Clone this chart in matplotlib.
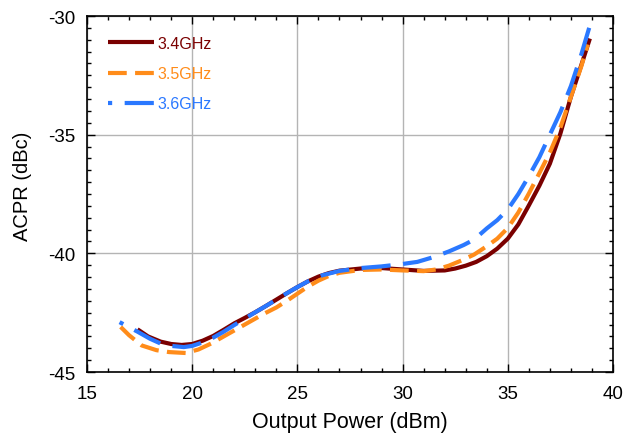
import numpy as np
import matplotlib
matplotlib.use("Agg")
import matplotlib.pyplot as plt
from matplotlib.ticker import MultipleLocator

plt.rcParams['font.family'] = ['Liberation Sans', 'DejaVu Sans']
plt.rcParams['axes.unicode_minus'] = False

# ACPR vs output power
x_34 = [17.4, 17.9, 18.5, 19.0, 19.5, 20.0, 20.5, 21.0, 21.5, 22.0, 22.5, 23.0, 23.5, 24.0, 24.5,
        25.0, 25.5, 26.0, 26.5, 27.0, 28.0, 29.0, 30.0, 31.0, 32.0, 32.5, 33.0, 33.5, 34.0, 34.5,
        35.0, 35.5, 36.0, 36.5, 37.0, 37.5, 38.0, 38.5, 38.9]
y_34 = [-43.2, -43.5, -43.72, -43.82, -43.86, -43.82, -43.68, -43.48, -43.22, -42.95, -42.72, -42.48,
        -42.22, -41.95, -41.68, -41.42, -41.18, -40.98, -40.83, -40.73, -40.64, -40.62, -40.68,
        -40.74, -40.72, -40.64, -40.52, -40.36, -40.12, -39.8, -39.38, -38.78, -37.98, -37.15,
        -36.22, -34.95, -33.4, -32.05, -30.95]

x_35 = [16.6, 17.0, 17.6, 18.3, 18.9, 19.7, 20.3, 20.9, 21.4, 21.9, 22.4, 22.9, 23.4, 24.0, 24.5,
        25.0, 25.5, 26.0, 26.5, 27.0, 28.0, 29.0, 30.0, 31.0, 31.6, 32.2, 32.8, 33.4, 34.0, 34.5,
        35.0, 35.5, 36.0, 36.5, 37.0, 37.5, 38.0, 38.5, 38.8]
y_35 = [-43.1, -43.45, -43.88, -44.08, -44.16, -44.2, -44.05, -43.8, -43.55, -43.3, -43.05, -42.8,
        -42.55, -42.28, -42.0, -41.7, -41.4, -41.15, -40.95, -40.82, -40.7, -40.68, -40.72,
        -40.75, -40.68, -40.52, -40.3, -40.05, -39.7, -39.38, -38.93, -38.28, -37.48, -36.62,
        -35.75, -34.7, -33.4, -32.1, -31.2]

x_36 = [16.55, 17.4, 18.0, 18.5, 19.0, 19.6, 20.0, 20.5, 21.0, 21.5, 22.0, 22.5, 23.0, 23.5, 24.0,
        24.5, 25.0, 25.5, 26.2, 27.0, 28.0, 29.0, 29.9, 30.7, 31.5, 32.2, 32.9, 33.4, 34.0, 34.5,
        35.0, 35.5, 36.0, 36.5, 37.0, 37.5, 38.0, 38.5, 38.95]
y_36 = [-42.9, -43.3, -43.6, -43.8, -43.9, -43.95, -43.9, -43.75, -43.55, -43.3, -43.02, -42.75,
        -42.48, -42.22, -41.95, -41.68, -41.42, -41.18, -40.92, -40.74, -40.62, -40.55, -40.46,
        -40.36, -40.15, -39.92, -39.65, -39.42, -38.95, -38.6, -38.15, -37.5, -36.75, -35.95,
        -35.0, -34.05, -32.95, -31.6, -30.25]

labels = ['3.4GHz', '3.5GHz', '3.6GHz']
colors = ['#7a0000', '#ff8c1a', '#2a78ff']

fig = plt.figure(figsize=(6.24, 4.35), dpi=100)
ax = fig.add_axes([0.1394, 0.1425, 0.843, 0.8184])

ax.plot(x_34, y_34, color=colors[0], lw=3, solid_capstyle='butt', label=labels[0], zorder=3)
ax.plot(x_35, y_35, color=colors[1], lw=3, linestyle=(0, (4.5, 2)), label=labels[1], zorder=4)
ax.plot(x_36, y_36, color=colors[2], lw=3, linestyle=(6, (7, 3)), label=labels[2], zorder=5)

ax.set_xlim(15, 40)
ax.set_ylim(-45, -30)
ax.xaxis.set_major_locator(MultipleLocator(5))
ax.xaxis.set_minor_locator(MultipleLocator(1))
ax.yaxis.set_major_locator(MultipleLocator(5))
ax.yaxis.set_minor_locator(MultipleLocator(0.5))
ax.tick_params(which='both', direction='in', top=True, right=True, labelsize=13.5, width=1)
ax.tick_params(which='major', length=6)
ax.tick_params(which='minor', length=3)
ax.tick_params(axis='x', which='major', pad=9)
ax.tick_params(axis='y', which='major', pad=8)
ax.grid(True, which='major', color='#b4b4b4', lw=1)
for s in ax.spines.values():
    s.set_linewidth(1.2)

ax.set_xlabel('Output Power (dBm)', fontsize=15.5, labelpad=7)
ax.set_ylabel('ACPR (dBc)', fontsize=14.5)
ax.yaxis.set_label_coords(-0.105, 0.525)

leg = ax.legend(loc='upper left', bbox_to_anchor=(0.04, 0.944), frameon=False, fontsize=11.5,
                handlelength=2.9, handletextpad=0.2, labelspacing=0.95, borderaxespad=0, borderpad=0)
for t, c in zip(leg.get_texts(), colors):
    t.set_color(c)

fig.savefig('out.png', dpi=100)
